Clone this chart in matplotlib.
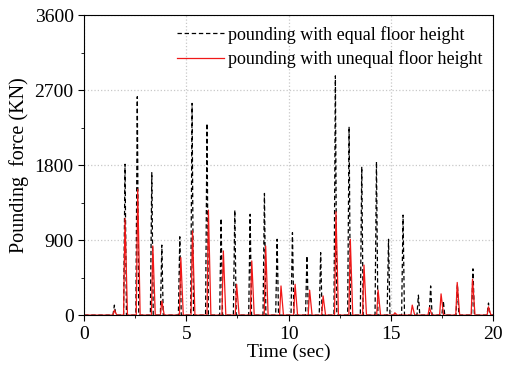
import numpy as np
import matplotlib
matplotlib.use('Agg')
import matplotlib.pyplot as plt
from matplotlib.ticker import MultipleLocator

# peak times (sec) and peak forces (KN)
equal_t = [1.48, 2.0, 2.6, 3.31, 3.8, 4.68, 5.28, 6.01, 6.7, 7.37, 8.12, 8.82,
           9.44, 10.19, 10.9, 11.57, 12.29, 12.96, 13.58, 14.3, 14.89, 15.6,
           16.35, 16.95, 17.57, 18.26, 19.02, 19.78]
equal_f = [120, 1810, 2620, 1710, 840, 940, 2540, 2300, 1160, 1260, 1210, 1460,
           910, 990, 710, 750, 2870, 2260, 1780, 1840, 910, 1200,
           240, 350, 170, 370, 555, 145]

unequal_t = [1.48, 2.0, 2.62, 3.36, 3.8, 4.73, 5.3, 6.08, 6.81, 7.46, 8.2, 8.88,
             9.63, 10.32, 11.03, 11.69, 12.32, 13.02, 13.69, 14.38, 15.2, 16.05,
             16.89, 17.46, 18.25, 19.0, 19.78]
unequal_f = [60, 1160, 1510, 830, 170, 690, 1010, 1260, 770, 370, 650, 830,
             350, 370, 300, 230, 1240, 910, 600, 300, 28, 120,
             92, 255, 392, 432, 100]


def spike_series(times, peaks, rise, fall):
    """Turn peak lists into a pulse train (zero between pounding events)."""
    xs, ys = [0.0], [0.0]
    for t, f in zip(times, peaks):
        xs += [t - rise, t, t + fall]
        ys += [0.0, f, 0.0]
    xs.append(20.0)
    ys.append(0.0)
    return np.array(xs), np.array(ys)


plt.rcParams['font.family'] = ['Liberation Serif', 'DejaVu Serif']

fig = plt.figure(figsize=(5.13, 3.66), dpi=100)
ax = fig.add_axes([0.164, 0.139, 0.797, 0.82])

x1, y1 = spike_series(equal_t, equal_f, 0.07, 0.07)
x2, y2 = spike_series(unequal_t, unequal_f, 0.07, 0.12)

ax.plot(x1, y1, color='black', lw=0.9, dashes=(3.5, 2.2),
        label='pounding with equal floor height')
ax.plot(x2, y2, color='#f01818', lw=0.9,
        label='pounding with unequal floor height')

ax.set_xlim(0, 20)
ax.set_ylim(0, 3600)
ax.xaxis.set_major_locator(MultipleLocator(5))
ax.xaxis.set_minor_locator(MultipleLocator(2.5))
ax.yaxis.set_major_locator(MultipleLocator(900))
ax.yaxis.set_minor_locator(MultipleLocator(450))
ax.tick_params(which='major', direction='out', length=4, labelsize=14)
ax.tick_params(which='minor', direction='out', length=2.5)
ax.grid(True, which='major', color='#c8c8c8', ls=':', lw=0.9)

ax.set_xlabel('Time (sec)', fontsize=14, labelpad=1)
ax.set_ylabel('Pounding  force (KN)', fontsize=14.5, labelpad=4)

ax.legend(loc='upper right', frameon=False, fontsize=13, handlelength=2.6,
          handletextpad=0.2, borderaxespad=0.2, labelspacing=0.35)

fig.savefig('out.png', dpi=100)
